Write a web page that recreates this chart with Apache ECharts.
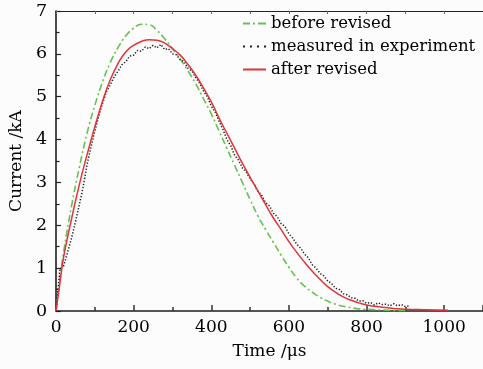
<!DOCTYPE html>
<html>
<head>
<meta charset="utf-8">
<script src="https://cdn.jsdelivr.net/npm/echarts@6/dist/echarts.min.js"></script>
<style>
  html, body { margin: 0; padding: 0; background: #fcfcfc; }
  #chart { width: 483px; height: 369px; }
</style>
</head>
<body>
<div id="chart"></div>
<script>
// Time /us for the two model curves
var beforeTime = [0, 10, 20, 40, 60, 80, 100, 120, 140, 160, 180, 200, 220, 240, 260, 280, 300, 320, 340, 360, 380, 400,
  420, 440, 460, 480, 500, 520, 540, 560, 580, 600, 620, 640, 660, 680, 700, 720, 740, 760, 780, 800, 850, 900];
var beforeCurrent = [0, 0.75, 1.4, 2.45, 3.35, 4.15, 4.8, 5.35, 5.8, 6.15, 6.42, 6.6, 6.69, 6.68, 6.55, 6.35, 6.12, 5.88, 5.6, 5.3, 4.95, 4.6,
  4.2, 3.8, 3.4, 3.0, 2.6, 2.22, 1.9, 1.6, 1.3, 1.02, 0.77, 0.58, 0.44, 0.32, 0.23, 0.16, 0.11, 0.08, 0.05, 0.04, 0.02, 0.01];

var afterTime = [0, 10, 20, 40, 60, 80, 100, 120, 140, 160, 180, 200, 220, 240, 260, 280, 300, 320, 340, 360, 380, 400,
  420, 440, 460, 480, 500, 520, 540, 560, 580, 600, 620, 640, 660, 680, 700, 720, 740, 760, 780, 800, 820, 840, 860, 880, 900, 950, 1010];
var afterCurrent = [0, 0.65, 1.28, 2.15, 2.95, 3.65, 4.3, 4.9, 5.4, 5.78, 6.05, 6.2, 6.29, 6.33, 6.32, 6.25, 6.12, 5.97, 5.75, 5.5, 5.2, 4.88,
  4.5, 4.15, 3.8, 3.45, 3.12, 2.8, 2.48, 2.17, 1.9, 1.62, 1.37, 1.14, 0.93, 0.74, 0.57, 0.44, 0.33, 0.25, 0.19, 0.14, 0.11, 0.09, 0.07, 0.05, 0.04, 0.03, 0.02];

// measured in experiment, every 10 us (noisy)
var measuredTime = [0, 10, 20, 30, 40, 50, 60, 70, 80, 90, 100, 110, 120, 130, 140, 150, 160, 170, 180, 190, 200,
  210, 220, 230, 240, 250, 260, 270, 280, 290, 300, 310, 320, 330, 340, 350, 360, 370, 380, 390, 400,
  410, 420, 430, 440, 450, 460, 470, 480, 490, 500, 510, 520, 530, 540, 550, 560, 570, 580, 590, 600,
  610, 620, 630, 640, 650, 660, 670, 680, 690, 700, 710, 720, 730, 740, 750, 760, 770, 780, 790, 800,
  810, 820, 830, 840, 850, 860, 870, 880, 890, 900, 910];
var measuredCurrent = [0, 0.98, 1.06, 1.38, 1.7, 2.08, 2.48, 2.9, 3.42, 3.82, 4.2, 4.55, 4.85, 5.12, 5.28, 5.47, 5.6, 5.75, 5.82, 5.95, 5.97,
  6.08, 6.06, 6.16, 6.12, 6.2, 6.14, 6.22, 6.1, 6.12, 6.0, 5.98, 5.86, 5.82, 5.66, 5.6, 5.44, 5.32, 5.13, 5.0, 4.78,
  4.64, 4.43, 4.24, 4.0, 3.86, 3.64, 3.52, 3.34, 3.25, 3.08, 2.97, 2.8, 2.7, 2.53, 2.45, 2.28, 2.2, 2.04, 1.97, 1.8,
  1.7, 1.56, 1.47, 1.33, 1.24, 1.08, 1.0, 0.88, 0.82, 0.7, 0.64, 0.53, 0.5, 0.4, 0.38, 0.31, 0.3, 0.23, 0.24, 0.18,
  0.2, 0.14, 0.19, 0.15, 0.16, 0.12, 0.17, 0.12, 0.15, 0.1, 0.12];

var xTicks = { min: 0, max: 1100, step: 200 };
var yTicks = { min: 0, max: 7, step: 1 };

function pairs(xs, ys) {
  return xs.map(function (x, i) { return [x, ys[i]]; });
}

var font = 'DejaVu Serif';
var chart = echarts.init(document.getElementById('chart'));

var option = {
  backgroundColor: '#fcfcfc',
  animation: false,
  grid: { left: 52, right: -1, top: 11, bottom: 58 },
  legend: {
    orient: 'vertical',
    left: 238,
    top: 10,
    itemWidth: 23,
    itemHeight: 2,
    itemGap: 6,
    textStyle: { fontFamily: font, fontSize: 16.5, color: '#000' },
    data: [
      { name: 'before revised', icon: 'path://M0,0h7v2h-7z M10,0h2v2h-2z M15,0h8v2h-8z' },
      { name: 'measured in experiment', icon: 'path://M0,0h2v2h-2z M7,0h2v2h-2z M14,0h2v2h-2z M21,0h2v2h-2z' },
      { name: 'after revised', icon: 'path://M0,0h23v2h-23z' }
    ]
  },
  xAxis: [{
    type: 'value',
    min: xTicks.min, max: xTicks.max, interval: xTicks.step,
    name: 'Time /\u03bcs',
    nameLocation: 'middle',
    nameGap: 32,
    nameTextStyle: { fontFamily: font, fontSize: 17, color: '#000' },
    axisLine: { lineStyle: { color: '#555', width: 2 } },
    axisTick: { inside: true, length: 6, lineStyle: { color: '#333', width: 1.5 } },
    minorTick: { show: true, splitNumber: 2, length: 4, lineStyle: { color: '#333', width: 1.5 } },
    axisLabel: {
      fontFamily: font, fontSize: 17, color: '#000', margin: 8, showMaxLabel: false,
      formatter: function (v) { return String(v); }
    },
    splitLine: { show: false }
  }, {
    type: 'value',
    position: 'top',
    min: xTicks.min, max: xTicks.max, interval: 100,
    axisLine: { lineStyle: { color: '#222', width: 1.2 } },
    axisTick: { inside: true, length: 3, lineStyle: { color: '#666' } },
    axisLabel: { show: false },
    splitLine: { show: false }
  }],
  yAxis: {
    type: 'value',
    min: yTicks.min, max: yTicks.max, interval: yTicks.step,
    name: 'Current /kA',
    nameLocation: 'middle',
    nameGap: 29,
    nameTextStyle: { fontFamily: font, fontSize: 17, color: '#000' },
    axisLine: { lineStyle: { color: '#111', width: 1.5 } },
    axisTick: { inside: true, length: 5, lineStyle: { color: '#222', width: 1.2 } },
    minorTick: { show: true, splitNumber: 2, length: 3.5, lineStyle: { color: '#222', width: 1.2 } },
    axisLabel: { fontFamily: font, fontSize: 17.5, color: '#000', margin: 9 },
    splitLine: { show: false }
  },
  series: [
    {
      name: 'before revised',
      type: 'line',
      smooth: true,
      symbol: 'none',
      color: '#66c24e',
      lineStyle: { width: 1.6, type: [7, 3, 2, 3] },
      data: pairs(beforeTime, beforeCurrent)
    },
    {
      name: 'measured in experiment',
      type: 'line',
      symbol: 'none',
      color: '#222',
      lineStyle: { width: 1.5, type: [1.3, 1.8] },
      data: pairs(measuredTime, measuredCurrent)
    },
    {
      name: 'after revised',
      type: 'line',
      smooth: true,
      symbol: 'none',
      color: '#e0343a',
      lineStyle: { width: 1.5 },
      data: pairs(afterTime, afterCurrent)
    }
  ]
};

chart.setOption(option);
</script>
</body>
</html>
